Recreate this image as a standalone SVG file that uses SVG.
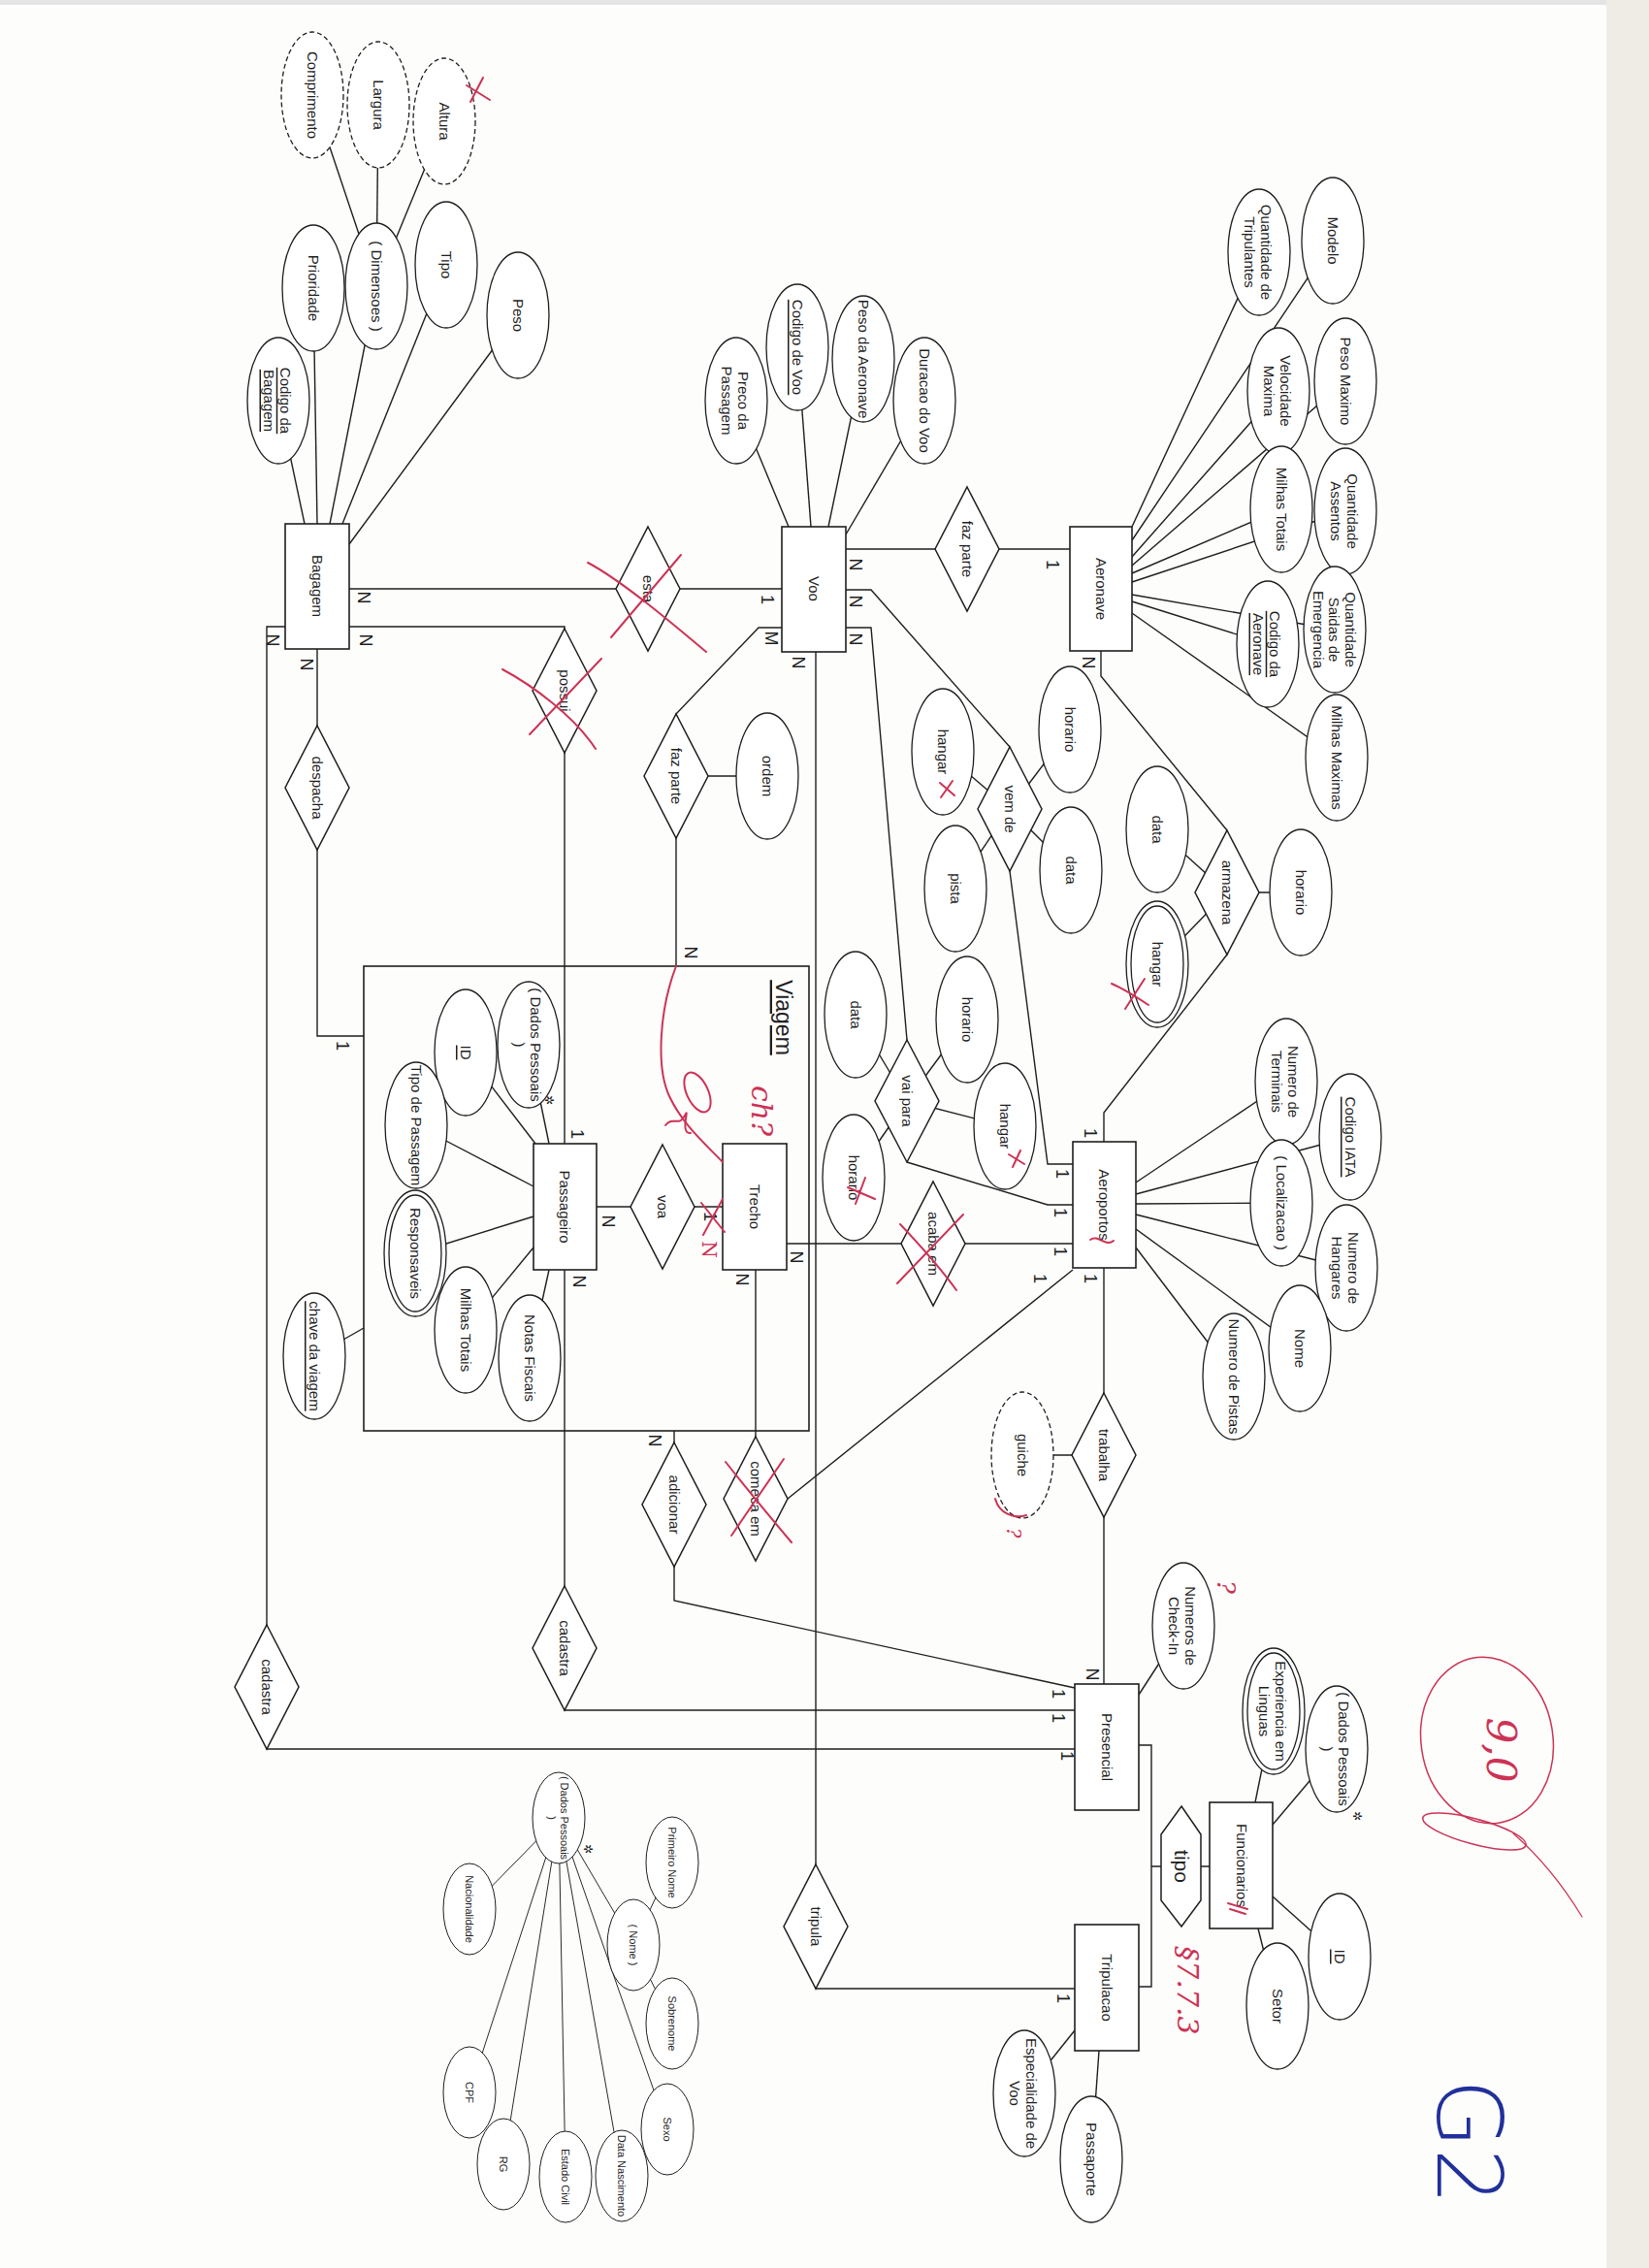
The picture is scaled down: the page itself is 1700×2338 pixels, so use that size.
<svg xmlns="http://www.w3.org/2000/svg" width="1700" height="2338" viewBox="0 0 1700 2338">
<style>
.e{fill:#fff;stroke:#1e1e1e;stroke-width:1.3}
.ds{stroke-dasharray:5 3}
.en{fill:#fff;stroke:#1e1e1e;stroke-width:1.6}
.rel{fill:#fff;stroke:#1e1e1e;stroke-width:1.5}
.box{fill:none;stroke:#1e1e1e;stroke-width:1.6}
.ln{fill:none;stroke:#1e1e1e;stroke-width:1.4}
.lt{fill:none;stroke:#2a2a2a;stroke-width:1}
text{font-family:"Liberation Sans",Arial,sans-serif;fill:#1e1e1e;text-anchor:middle;dominant-baseline:central}
.t{font-size:15px}
.s{font-size:11px}
.k{font-size:18px}
.u{text-decoration:underline}
.red{fill:none;stroke:#cc3355;stroke-width:2;stroke-linecap:round}
.rt{fill:#cc3355;font-family:"DejaVu Serif",serif;font-style:italic}
.star{font-family:"DejaVu Sans",sans-serif;font-size:12px}
</style>
<rect x="0" y="0" width="1700" height="2338" fill="#fdfdfc"/>
<rect x="1656" y="0" width="44" height="2338" fill="#efece6"/>
<rect x="0" y="0" width="1656" height="5" fill="#e4e4e4"/>

<g id="connectors">
<g class="ln">
<path d="M314,540L287,413"/><path d="M327,540L323,297"/><path d="M340,540L388,295"/><path d="M353,540L460,273"/><path d="M360,561L534,325"/>
<path d="M388,295L322,98"/><path d="M388,295L390,108"/><path d="M388,295L458,125"/>
<path d="M813,543L759,413"/><path d="M836,543L822,358"/><path d="M854,543L890,370"/><path d="M872,551L953,413"/>
<path d="M1167,543L1298,260"/><path d="M1167,557L1374,248"/><path d="M1167,574L1318,403"/><path d="M1167,583L1387,393"/><path d="M1167,591L1321,525"/><path d="M1167,600L1387,527"/><path d="M1167,613L1376,649"/><path d="M1167,620L1307,664"/><path d="M1167,632L1378,781"/>
<path d="M1171,1219L1326,1115"/><path d="M1171,1231L1392,1172"/><path d="M1171,1241L1321,1240"/><path d="M1171,1252L1388,1307"/><path d="M1171,1267L1340,1390"/><path d="M1171,1286L1272,1419"/>
<path d="M552,1179L480,1085"/><path d="M566,1179L545,1077"/><path d="M550,1223L429,1160"/><path d="M550,1254L428,1292"/><path d="M550,1286L480,1371"/><path d="M566,1309L546,1400"/>
<path d="M1294,1858L1313,1764"/><path d="M1312,1881L1378,1803"/><path d="M1312,1955L1381,2017"/><path d="M1297,1988L1317,2068"/>
<path d="M1174,1747L1220,1676"/><path d="M1108,2093L1056,2158"/><path d="M1133,2114L1125,2226"/>
<path d="M375,1369L324,1398"/>
<path d="M697,800L791,800"/>
<path d="M1041,834L1103,752"/><path d="M1041,834L972,775"/><path d="M1041,834L985,916"/><path d="M1041,834L1104,897"/>
<path d="M1265,920L1193,855"/><path d="M1265,920L1193,994"/><path d="M1265,920L1341,920"/>
<path d="M935,1135L882,1046"/><path d="M935,1135L997,1051"/><path d="M935,1135L1036,1161"/><path d="M935,1135L880,1214"/>
<path d="M1138,1500L1054,1500"/>
<path d="M360,607H806"/>
<path d="M360,646H582V1179"/>
<path d="M582,1309V1763H1108"/>
<path d="M294,646H275V1803H1108"/>
<path d="M327,668V1068H375"/>
<path d="M872,566H1103"/>
<path d="M806,647H782L697,736V996"/>
<path d="M872,608H898L1041,770"/>
<path d="M1041,898L1080,1200H1106"/>
<path d="M872,647H898L935,1072"/>
<path d="M935,1198L1080,1242H1106"/>
<path d="M841,672V2050H1108"/>
<path d="M1135,671V697L1265,856"/>
<path d="M1265,984L1138,1147V1177"/>
<path d="M615,1244H745"/>
<path d="M811,1282H1106"/>
<path d="M779,1309V1481"/>
<path d="M812,1545L1106,1309"/>
<path d="M695,1475V1650L1108,1740"/>
<path d="M1138,1307V1736"/>
<path d="M1174,1799H1187V2048H1174"/>
<path d="M1187,1924H1247"/>
</g>
<g class="lt">
<path d="M576,1874L484,1968"/><path d="M576,1874L484,2157"/><path d="M576,1874L519,2231"/><path d="M576,1874L583,2244"/><path d="M576,1874L641,2243"/><path d="M576,1874L688,2195"/><path d="M576,1874L653,2005"/>
<path d="M653,2005L693,1920"/><path d="M653,2005L693,2086"/>
</g>
<g id="cardinalities" class="k">
<text transform="translate(375 616) rotate(90)">N</text>
<text transform="translate(377 660) rotate(90)">N</text>
<text transform="translate(281 660) rotate(90)">N</text>
<text transform="translate(316 685) rotate(90)">N</text>
<text transform="translate(353 1078) rotate(90)">1</text>
<text transform="translate(791 618) rotate(90)">1</text>
<text transform="translate(795 658) rotate(90)">M</text>
<text transform="translate(823 683) rotate(90)">N</text>
<text transform="translate(882 582) rotate(90)">N</text>
<text transform="translate(882 620) rotate(90)">N</text>
<text transform="translate(882 659) rotate(90)">N</text>
<text transform="translate(1085 582) rotate(90)">1</text>
<text transform="translate(1122 683) rotate(90)">N</text>
<text transform="translate(712 982) rotate(90)">N</text>
<text transform="translate(595 1169) rotate(90)">1</text>
<text transform="translate(627 1259) rotate(90)">N</text>
<text transform="translate(597 1321) rotate(90)">N</text>
<text transform="translate(732 1254) rotate(90)">1</text>
<text transform="translate(821 1296) rotate(90)">N</text>
<text transform="translate(765 1319) rotate(90)">N</text>
<text transform="translate(1124 1168) rotate(90)">1</text>
<text transform="translate(1095 1210) rotate(90)">1</text>
<text transform="translate(1093 1250) rotate(90)">1</text>
<text transform="translate(1093 1290) rotate(90)">1</text>
<text transform="translate(1072 1318) rotate(90)">1</text>
<text transform="translate(1124 1318) rotate(90)">1</text>
<text transform="translate(675 1485) rotate(90)">N</text>
<text transform="translate(1126 1726) rotate(90)">N</text>
<text transform="translate(1091 1746) rotate(90)">1</text>
<text transform="translate(1091 1771) rotate(90)">1</text>
<text transform="translate(1100 1810) rotate(90)">1</text>
<text transform="translate(1096 2060) rotate(90)">1</text>
</g>
</g>

<g id="n-viagem"><rect class="box" x="375" y="996" width="459" height="479"/><text class="u" style="font-size:23px" transform="translate(808 1049) rotate(90)">Viagem</text></g>

<g id="n-bagagem"><rect class="en" x="294" y="540" width="66" height="129"/><text class="t" transform="translate(327 604) rotate(90)">Bagagem</text></g>
<g id="n-voo"><rect class="en" x="806" y="543" width="66" height="129"/><text class="t" transform="translate(839 607) rotate(90)">Voo</text></g>
<g id="n-aeronave"><rect class="en" x="1103" y="543" width="64" height="128"/><text class="t" transform="translate(1135 607) rotate(90)">Aeronave</text></g>
<g id="n-passageiro"><rect class="en" x="550" y="1179" width="65" height="130"/><text class="t" transform="translate(582 1244) rotate(90)">Passageiro</text></g>
<g id="n-trecho"><rect class="en" x="745" y="1179" width="66" height="130"/><text class="t" transform="translate(778 1244) rotate(90)">Trecho</text></g>
<g id="n-aeroportos"><rect class="en" x="1106" y="1177" width="65" height="130"/><text class="t" transform="translate(1138 1242) rotate(90)">Aeroportos</text></g>
<g id="n-presencial"><rect class="en" x="1108" y="1736" width="66" height="130"/><text class="t" transform="translate(1141 1801) rotate(90)">Presencial</text></g>
<g id="n-funcionarios"><rect class="en" x="1247" y="1858" width="65" height="130"/><text class="t" transform="translate(1280 1923) rotate(90)">Funcionarios</text></g>
<g id="n-tripulacao"><rect class="en" x="1108" y="1984" width="66" height="130"/><text class="t" transform="translate(1141 2049) rotate(90)">Tripulacao</text></g>

<g id="r-esta"><polygon class="rel" points="668,543 701,607 668,671 635,607"/><text class="t" transform="translate(668 607) rotate(90)">esta</text></g>
<g id="r-possui"><polygon class="rel" points="582,648 615,712 582,776 549,712"/><text class="t" transform="translate(582 712) rotate(90)">possui</text></g>
<g id="r-despacha"><polygon class="rel" points="327,748 360,812 327,876 294,812"/><text class="t" transform="translate(327 812) rotate(90)">despacha</text></g>
<g id="r-fazparte1"><polygon class="rel" points="997,502 1030,566 997,630 964,566"/><text class="t" transform="translate(997 566) rotate(90)">faz parte</text></g>
<g id="r-fazparte2"><polygon class="rel" points="697,736 730,800 697,864 664,800"/><text class="t" transform="translate(697 800) rotate(90)">faz parte</text></g>
<g id="r-vemde"><polygon class="rel" points="1041,770 1074,834 1041,898 1008,834"/><text class="t" transform="translate(1041 834) rotate(90)">vem de</text></g>
<g id="r-armazena"><polygon class="rel" points="1265,856 1298,920 1265,984 1232,920"/><text class="t" transform="translate(1265 920) rotate(90)">armazena</text></g>
<g id="r-vaipara"><polygon class="rel" points="935,1072 968,1135 935,1198 902,1135"/><text class="t" transform="translate(935 1135) rotate(90)">vai para</text></g>
<g id="r-voa"><polygon class="rel" points="683,1180 716,1244 683,1308 650,1244"/><text class="t" transform="translate(683 1244) rotate(90)">voa</text></g>
<g id="r-acabaem"><polygon class="rel" points="962,1218 995,1282 962,1346 929,1282"/><text class="t" transform="translate(962 1282) rotate(90)">acaba em</text></g>
<g id="r-comecaem"><polygon class="rel" points="779,1481 812,1545 779,1609 746,1545"/><text class="t" transform="translate(779 1545) rotate(90)">comeca em</text></g>
<g id="r-adicionar"><polygon class="rel" points="695,1487 728,1551 695,1615 662,1551"/><text class="t" transform="translate(695 1551) rotate(90)">adicionar</text></g>
<g id="r-trabalha"><polygon class="rel" points="1138,1436 1171,1500 1138,1564 1105,1500"/><text class="t" transform="translate(1138 1500) rotate(90)">trabalha</text></g>
<g id="r-cadastra1"><polygon class="rel" points="582,1635 615,1699 582,1763 549,1699"/><text class="t" transform="translate(582 1699) rotate(90)">cadastra</text></g>
<g id="r-cadastra2"><polygon class="rel" points="275,1675 308,1739 275,1803 242,1739"/><text class="t" transform="translate(275 1739) rotate(90)">cadastra</text></g>
<g id="r-tripula"><polygon class="rel" points="841,1922 874,1986 841,2050 808,1986"/><text class="t" transform="translate(841 1986) rotate(90)">tripula</text></g>
<g id="r-tipo"><polygon class="rel" points="1218,1862 1238,1891 1238,1959 1218,1986 1197,1959 1197,1891"/><text style="font-size:21px" transform="translate(1218 1924) rotate(90)">tipo</text></g>

<g id="attributes">
<g id="a-comprimento"><ellipse class="e ds" cx="322" cy="98" rx="32" ry="65"/><text class="t" transform="translate(322 98) rotate(90)">Comprimento</text></g>
<g id="a-largura"><ellipse class="e ds" cx="390" cy="108" rx="32" ry="65"/><text class="t" transform="translate(390 108) rotate(90)">Largura</text></g>
<g id="a-altura"><ellipse class="e ds" cx="458" cy="125" rx="32" ry="65"/><text class="t" transform="translate(458 125) rotate(90)">Altura</text></g>
<g id="a-dimensoes"><ellipse class="e" cx="388" cy="295" rx="32" ry="65"/><text class="t" transform="translate(388 295) rotate(90)">( Dimensoes )</text></g>
<g id="a-prioridade"><ellipse class="e" cx="323" cy="297" rx="32" ry="65"/><text class="t" transform="translate(323 297) rotate(90)">Prioridade</text></g>
<g id="a-tipo"><ellipse class="e" cx="460" cy="273" rx="32" ry="65"/><text class="t" transform="translate(460 273) rotate(90)">Tipo</text></g>
<g id="a-peso"><ellipse class="e" cx="534" cy="325" rx="32" ry="65"/><text class="t" transform="translate(534 325) rotate(90)">Peso</text></g>
<g id="a-codbag"><ellipse class="e" cx="287" cy="413" rx="32" ry="65"/><text class="t u" transform="translate(287 413) rotate(90)"><tspan x="0" dy="-0.55em">Codigo da</tspan><tspan x="0" dy="1.15em">Bagagem</tspan></text></g>

<g id="a-preco"><ellipse class="e" cx="759" cy="413" rx="32" ry="65"/><text class="t" transform="translate(759 413) rotate(90)"><tspan x="0" dy="-0.55em">Preco da</tspan><tspan x="0" dy="1.15em">Passagem</tspan></text></g>
<g id="a-codvoo"><ellipse class="e" cx="822" cy="358" rx="32" ry="65"/><text class="t u" transform="translate(822 358) rotate(90)">Codigo de Voo</text></g>
<g id="a-pesoaero"><ellipse class="e" cx="890" cy="370" rx="32" ry="65"/><text class="t" transform="translate(890 370) rotate(90)">Peso da Aeronave</text></g>
<g id="a-duracao"><ellipse class="e" cx="953" cy="413" rx="32" ry="65"/><text class="t" transform="translate(953 413) rotate(90)">Duracao do Voo</text></g>

<g id="a-qtdtrip"><ellipse class="e" cx="1298" cy="260" rx="32" ry="65"/><text class="t" transform="translate(1298 260) rotate(90)"><tspan x="0" dy="-0.55em">Quantidade de</tspan><tspan x="0" dy="1.15em">Tripulantes</tspan></text></g>
<g id="a-modelo"><ellipse class="e" cx="1374" cy="248" rx="32" ry="65"/><text class="t" transform="translate(1374 248) rotate(90)">Modelo</text></g>
<g id="a-velocidade"><ellipse class="e" cx="1318" cy="403" rx="32" ry="65"/><text class="t" transform="translate(1318 403) rotate(90)"><tspan x="0" dy="-0.55em">Velocidade</tspan><tspan x="0" dy="1.15em">Maxima</tspan></text></g>
<g id="a-pesomax"><ellipse class="e" cx="1387" cy="393" rx="32" ry="65"/><text class="t" transform="translate(1387 393) rotate(90)">Peso Maximo</text></g>
<g id="a-milhastot"><ellipse class="e" cx="1321" cy="525" rx="32" ry="65"/><text class="t" transform="translate(1321 525) rotate(90)">Milhas Totais</text></g>
<g id="a-assentos"><ellipse class="e" cx="1387" cy="527" rx="32" ry="65"/><text class="t" transform="translate(1387 527) rotate(90)"><tspan x="0" dy="-0.55em">Quantidade</tspan><tspan x="0" dy="1.15em">Assentos</tspan></text></g>
<g id="a-saidas"><ellipse class="e" cx="1376" cy="649" rx="32" ry="65"/><text class="t" transform="translate(1376 649) rotate(90)"><tspan x="0" dy="-1.1em">Quantidade</tspan><tspan x="0" dy="1.1em">Saidas de</tspan><tspan x="0" dy="1.1em">Emergencia</tspan></text></g>
<g id="a-codaero"><ellipse class="e" cx="1307" cy="664" rx="32" ry="65"/><text class="t u" transform="translate(1307 664) rotate(90)"><tspan x="0" dy="-0.55em">Codigo da</tspan><tspan x="0" dy="1.15em">Aeronave</tspan></text></g>
<g id="a-milhasmax"><ellipse class="e" cx="1378" cy="781" rx="32" ry="65"/><text class="t" transform="translate(1378 781) rotate(90)">Milhas Maximas</text></g>

<g id="a-ordem"><ellipse class="e" cx="791" cy="800" rx="32" ry="65"/><text class="t" transform="translate(791 800) rotate(90)">ordem</text></g>
<g id="a-vd-horario"><ellipse class="e" cx="1103" cy="752" rx="32" ry="65"/><text class="t" transform="translate(1103 752) rotate(90)">horario</text></g>
<g id="a-vd-hangar"><ellipse class="e" cx="972" cy="775" rx="32" ry="65"/><text class="t" transform="translate(972 775) rotate(90)">hangar</text></g>
<g id="a-vd-pista"><ellipse class="e" cx="985" cy="916" rx="32" ry="65"/><text class="t" transform="translate(985 916) rotate(90)">pista</text></g>
<g id="a-vd-data"><ellipse class="e" cx="1104" cy="897" rx="32" ry="65"/><text class="t" transform="translate(1104 897) rotate(90)">data</text></g>
<g id="a-ar-data"><ellipse class="e" cx="1193" cy="855" rx="32" ry="65"/><text class="t" transform="translate(1193 855) rotate(90)">data</text></g>
<g id="a-ar-hangar"><ellipse class="e" cx="1193" cy="994" rx="32" ry="65"/><ellipse class="e" cx="1193" cy="994" rx="27" ry="60"/><text class="t" transform="translate(1193 994) rotate(90)">hangar</text></g>
<g id="a-ar-horario"><ellipse class="e" cx="1341" cy="920" rx="32" ry="65"/><text class="t" transform="translate(1341 920) rotate(90)">horario</text></g>
<g id="a-vp-data"><ellipse class="e" cx="882" cy="1046" rx="32" ry="65"/><text class="t" transform="translate(882 1046) rotate(90)">data</text></g>
<g id="a-vp-horario"><ellipse class="e" cx="997" cy="1051" rx="32" ry="65"/><text class="t" transform="translate(997 1051) rotate(90)">horario</text></g>
<g id="a-vp-hangar"><ellipse class="e" cx="1036" cy="1161" rx="32" ry="65"/><text class="t" transform="translate(1036 1161) rotate(90)">hangar</text></g>
<g id="a-vp-horario2"><ellipse class="e" cx="880" cy="1214" rx="32" ry="65"/><text class="t" transform="translate(880 1214) rotate(90)">horario</text></g>

<g id="a-terminais"><ellipse class="e" cx="1326" cy="1115" rx="32" ry="65"/><text class="t" transform="translate(1326 1115) rotate(90)"><tspan x="0" dy="-0.55em">Numero de</tspan><tspan x="0" dy="1.15em">Terminais</tspan></text></g>
<g id="a-iata"><ellipse class="e" cx="1392" cy="1172" rx="32" ry="65"/><text class="t u" transform="translate(1392 1172) rotate(90)">Codigo IATA</text></g>
<g id="a-localizacao"><ellipse class="e" cx="1321" cy="1240" rx="32" ry="65"/><text class="t" transform="translate(1321 1240) rotate(90)">( Localizacao )</text></g>
<g id="a-hangares"><ellipse class="e" cx="1388" cy="1307" rx="32" ry="65"/><text class="t" transform="translate(1388 1307) rotate(90)"><tspan x="0" dy="-0.55em">Numero de</tspan><tspan x="0" dy="1.15em">Hangares</tspan></text></g>
<g id="a-nome"><ellipse class="e" cx="1340" cy="1390" rx="32" ry="65"/><text class="t" transform="translate(1340 1390) rotate(90)">Nome</text></g>
<g id="a-pistas"><ellipse class="e" cx="1272" cy="1419" rx="32" ry="65"/><text class="t" transform="translate(1272 1419) rotate(90)">Numero de Pistas</text></g>
<g id="a-guiche"><ellipse class="e ds" cx="1054" cy="1500" rx="32" ry="65"/><text class="t" transform="translate(1054 1500) rotate(90)">guiche</text></g>
<g id="a-checkin"><ellipse class="e" cx="1220" cy="1676" rx="32" ry="65"/><text class="t" transform="translate(1220 1676) rotate(90)"><tspan x="0" dy="-0.55em">Numeros de</tspan><tspan x="0" dy="1.15em">Check-In</tspan></text></g>

<g id="a-experiencia"><ellipse class="e" cx="1313" cy="1764" rx="32" ry="65"/><ellipse class="e" cx="1313" cy="1764" rx="27" ry="60"/><text class="t" transform="translate(1313 1764) rotate(90)"><tspan x="0" dy="-0.55em">Experiencia em</tspan><tspan x="0" dy="1.15em">Linguas</tspan></text></g>
<g id="a-f-dados"><ellipse class="e" cx="1378" cy="1803" rx="32" ry="65"/><text class="t" transform="translate(1378 1803) rotate(90)"><tspan x="0" dy="-0.55em">( Dados Pessoais</tspan><tspan x="0" dy="1.15em">)</tspan></text><text class="star" transform="translate(1399 1872) rotate(90)">✲</text></g>
<g id="a-f-id"><ellipse class="e" cx="1381" cy="2017" rx="32" ry="65"/><text class="t u" transform="translate(1381 2017) rotate(90)">ID</text></g>
<g id="a-setor"><ellipse class="e" cx="1317" cy="2068" rx="32" ry="65"/><text class="t" transform="translate(1317 2068) rotate(90)">Setor</text></g>
<g id="a-especialidade"><ellipse class="e" cx="1056" cy="2158" rx="32" ry="65"/><text class="t" transform="translate(1056 2158) rotate(90)"><tspan x="0" dy="-0.55em">Especialidade de</tspan><tspan x="0" dy="1.15em">Voo</tspan></text></g>
<g id="a-passaporte"><ellipse class="e" cx="1125" cy="2226" rx="32" ry="65"/><text class="t" transform="translate(1125 2226) rotate(90)">Passaporte</text></g>

<g id="a-p-dados"><ellipse class="e" cx="545" cy="1077" rx="32" ry="65"/><text class="t" transform="translate(545 1077) rotate(90)"><tspan x="0" dy="-0.55em">( Dados Pessoais</tspan><tspan x="0" dy="1.15em">)</tspan></text><text class="star" transform="translate(566 1134) rotate(90)">✲</text></g>
<g id="a-p-id"><ellipse class="e" cx="480" cy="1085" rx="32" ry="65"/><text class="t u" transform="translate(480 1085) rotate(90)">ID</text></g>
<g id="a-tipopass"><ellipse class="e" cx="429" cy="1160" rx="32" ry="65"/><text class="t" transform="translate(429 1160) rotate(90)">Tipo de Passagem</text></g>
<g id="a-responsaveis"><ellipse class="e" cx="428" cy="1292" rx="32" ry="65"/><ellipse class="e" cx="428" cy="1292" rx="27" ry="60"/><text class="t" transform="translate(428 1292) rotate(90)">Responsaveis</text></g>
<g id="a-p-milhas"><ellipse class="e" cx="480" cy="1371" rx="32" ry="65"/><text class="t" transform="translate(480 1371) rotate(90)">Milhas Totais</text></g>
<g id="a-notas"><ellipse class="e" cx="546" cy="1400" rx="32" ry="65"/><text class="t" transform="translate(546 1400) rotate(90)">Notas Fiscais</text></g>
<g id="a-chave"><ellipse class="e" cx="324" cy="1398" rx="32" ry="65"/><text class="t u" transform="translate(324 1398) rotate(90)">chave da viagem</text></g>

<g id="a-dp"><ellipse class="e" style="stroke-width:1" cx="576" cy="1874" rx="27" ry="47"/><text class="s" transform="translate(576 1874) rotate(90)"><tspan x="0" dy="-0.55em">( Dados Pessoais</tspan><tspan x="0" dy="1.15em">)</tspan></text><text class="star" transform="translate(606 1906) rotate(90)">✲</text></g>
<g id="a-primeiro"><ellipse class="e" style="stroke-width:1" cx="693" cy="1920" rx="27" ry="47"/><text class="s" transform="translate(693 1920) rotate(90)">Primeiro Nome</text></g>
<g id="a-nome2"><ellipse class="e" style="stroke-width:1" cx="653" cy="2005" rx="27" ry="47"/><text class="s" transform="translate(653 2005) rotate(90)">( Nome )</text></g>
<g id="a-sobrenome"><ellipse class="e" style="stroke-width:1" cx="693" cy="2086" rx="27" ry="47"/><text class="s" transform="translate(693 2086) rotate(90)">Sobrenome</text></g>
<g id="a-sexo"><ellipse class="e" style="stroke-width:1" cx="688" cy="2195" rx="27" ry="47"/><text class="s" transform="translate(688 2195) rotate(90)">Sexo</text></g>
<g id="a-nasc"><ellipse class="e" style="stroke-width:1" cx="641" cy="2243" rx="27" ry="47"/><text class="s" transform="translate(641 2243) rotate(90)">Data Nascimento</text></g>
<g id="a-civil"><ellipse class="e" style="stroke-width:1" cx="583" cy="2244" rx="27" ry="47"/><text class="s" transform="translate(583 2244) rotate(90)">Estado Civil</text></g>
<g id="a-rg"><ellipse class="e" style="stroke-width:1" cx="519" cy="2231" rx="27" ry="47"/><text class="s" transform="translate(519 2231) rotate(90)">RG</text></g>
<g id="a-cpf"><ellipse class="e" style="stroke-width:1" cx="484" cy="2157" rx="27" ry="47"/><text class="s" transform="translate(484 2157) rotate(90)">CPF</text></g>
<g id="a-nacionalidade"><ellipse class="e" style="stroke-width:1" cx="484" cy="1968" rx="27" ry="47"/><text class="s" transform="translate(484 1968) rotate(90)">Nacionalidade</text></g>
</g>

<g id="annotations">
<path class="red" d="M481,88L505,103M498,80L485,105"/>
<path class="red" d="M606,580C640,598 690,640 728,672M702,572L630,657"/>
<path class="red" d="M518,690C548,706 592,738 614,772M546,757L620,679"/>
<path class="red" d="M928,1262C945,1280 968,1305 986,1330M993,1252L925,1323"/>
<path class="red" d="M748,1507C770,1535 795,1565 816,1590M808,1504L754,1583"/>
<path class="red" d="M969,807L984,820M982,805L970,822"/>
<path class="red" d="M1146,1014C1160,1020 1172,1028 1184,1036M1180,1009L1160,1040"/>
<path class="red" d="M1040,1190L1056,1200M1052,1186L1044,1203"/>
<path class="red" d="M874,1224L902,1236M892,1214L882,1241"/>
<path class="red" d="M723,1240L747,1270M745,1236L725,1273"/>
<text class="rt" style="font-size:20px;font-style:normal" transform="translate(731 1288) rotate(90)">N</text>
<path class="red" d="M697,996C680,1040 676,1100 690,1130S728,1180 745,1198"/>
<ellipse class="red" cx="719" cy="1126" rx="11" ry="22" transform="rotate(-25 719 1126)"/>
<path class="red" d="M686,1160C694,1150 700,1162 706,1150S700,1170 712,1168"/>
<text class="rt" style="font-size:30px" transform="translate(785 1145) rotate(90)">ch?</text>
<path class="red" d="M1124,1278C1132,1272 1140,1286 1148,1279"/>
<path class="red" d="M1266,1962L1286,1968M1268,1968L1284,1973"/>
<path class="red" d="M1026,1545C1030,1560 1045,1566 1058,1562"/>
<text class="rt" style="font-size:20px" transform="translate(1045 1580) rotate(90)">?</text>
<text class="rt" style="font-size:26px" transform="translate(1264 1636) rotate(90)">?</text>
<text class="rt" style="font-size:30px" transform="translate(1224 2052) rotate(90)">§7.7.3</text>
<ellipse class="red" style="stroke-width:1.5" cx="1533" cy="1794" rx="68" ry="86" transform="rotate(-8 1533 1794)"/>
<text class="rt" style="font-size:42px" transform="translate(1547 1804) rotate(90)">9,0</text>
<ellipse class="red" style="stroke-width:1.5" cx="1520" cy="1888" rx="55" ry="13" transform="rotate(15 1520 1888)"/>
<path class="red" style="stroke-width:1.2" d="M1560,1890Q1600,1925 1631,1976"/>
<text style="font-size:92px;fill:#22309a;font-family:'DejaVu Sans',sans-serif;font-weight:200" transform="translate(1513 2208) rotate(90)">G2</text>
</g>
</svg>
